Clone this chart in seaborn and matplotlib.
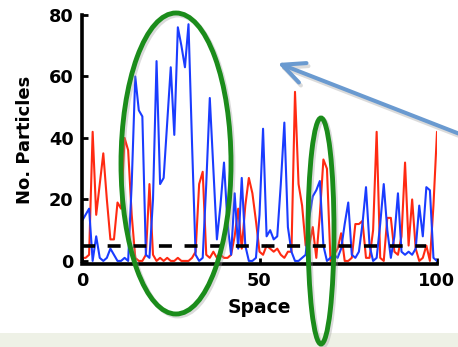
import matplotlib
matplotlib.use("Agg")
import matplotlib.pyplot as plt
import seaborn as sns
import pandas as pd
from matplotlib.patches import Ellipse, FancyArrowPatch, Rectangle, ArrowStyle

# ---- data ----
space = list(range(101))
red = [1, 1, 2, 42, 15, 25, 35, 20, 7, 7,
       19, 17, 40, 36, 15, 1, 0, 0, 2, 25,
       2, 0, 1, 0, 1, 0, 0, 1, 0, 0,
       0, 1, 3, 25, 29, 2, 1, 3, 1, 2,
       1, 1, 2, 8, 17, 4, 18, 27, 22, 13,
       3, 2, 5, 4, 3, 4, 2, 1, 3, 3,
       55, 25, 18, 5, 5, 11, 1, 15, 33, 30,
       0, 2, 4, 9, 0, 0, 1, 12, 12, 13,
       1, 1, 10, 42, 1, 0, 14, 14, 3, 2,
       8, 32, 5, 20, 4, 0, 1, 5, 0, 18,
       42]
blue = [13, 15, 17, 0, 8, 1, 0, 1, 4, 2,
        0, 0, 1, 0, 25, 60, 49, 47, 2, 1,
        20, 65, 25, 27, 45, 63, 41, 76, 70, 63,
        77, 38, 2, 0, 1, 25, 53, 30, 7, 18,
        32, 12, 2, 22, 4, 27, 5, 0, 0, 1,
        15, 43, 8, 10, 7, 8, 25, 45, 11, 3,
        0, 0, 1, 2, 14, 21, 23, 26, 5, 0,
        1, 2, 1, 4, 12, 19, 2, 1, 3, 12,
        24, 5, 0, 1, 12, 25, 10, 1, 8, 22,
        3, 2, 3, 2, 4, 18, 8, 24, 23, 1,
        0]
threshold_x = [0, 97]
threshold_y = [5, 5]
xticks = [0, 50, 100]
yticks = [0, 20, 40, 60, 80]

df = pd.DataFrame({"space": space, "red": red, "blue": blue})

sns.set_style("ticks")
plt.rcParams["font.family"] = ["DejaVu Sans"]
plt.rcParams["text.color"] = "black"
plt.rcParams["axes.labelcolor"] = "black"

W, H = 458, 347
fig = plt.figure(figsize=(W / 100, H / 100), dpi=100)
fig.patch.set_facecolor("white")

ax_left, ax_right, ax_top, ax_bot = 82, 437, 15, 264
ax = fig.add_axes([ax_left / W, 1 - ax_bot / H, (ax_right - ax_left) / W, (ax_bot - ax_top) / H])
ax.set_facecolor("white")

sns.lineplot(data=df, x="space", y="red", color="#ff2a12", linewidth=1.5, ax=ax, zorder=2)
sns.lineplot(data=df, x="space", y="blue", color="#1a3cff", linewidth=1.5, ax=ax, zorder=2.1)
ax.plot(threshold_x, threshold_y, color="black", linewidth=2.6, dashes=(3.6, 3.5), zorder=3,
        solid_capstyle="butt", dash_capstyle="butt")

ax.set_xlim(0, 100)
ax.set_ylim(-1, 80)
ax.set_xticks(xticks)
ax.set_yticks(yticks)
for s in ["top", "right"]:
    ax.spines[s].set_visible(False)
for s in ["left", "bottom"]:
    ax.spines[s].set_linewidth(2.6)
    ax.spines[s].set_color("black")
ax.spines["left"].set_bounds(0, 80)
ax.tick_params(direction="in", length=4, width=2, pad=6, labelsize=12.8,
               colors="black", labelcolor="black")
for lab in ax.get_xticklabels() + ax.get_yticklabels():
    lab.set_fontweight("bold")

ax.set_xlabel("Space", fontsize=13.5, fontweight="bold", color="black")
ax.set_ylabel("No. Particles", fontsize=13, fontweight="bold", color="black")
ax.xaxis.set_label_coords(0.5, (ax_bot - 298) / (ax_bot - ax_top))
ax.yaxis.set_label_coords((34 - ax_left) / (ax_right - ax_left), 0.5)

# ---- annotations ----
def fx(px):
    return px / W

def fy(py):
    return 1 - py / H

# bottom band
fig.add_artist(Rectangle((0, 0), 1, (H - 333) / H, transform=fig.transFigure,
                         facecolor="#eef1e6", edgecolor="none", zorder=0.5))

green = "#1b8c1b"
for (cx, cy, w, h) in [(176, 163.5, 110, 301), (321, 231, 26, 226)]:
    fig.add_artist(Ellipse((fx(cx + 2), fy(cy + 2)), w / W, h / H, transform=fig.transFigure,
                           fill=False, edgecolor="#999999", alpha=0.35, linewidth=3.5, zorder=9))
    fig.add_artist(Ellipse((fx(cx), fy(cy)), w / W, h / H, transform=fig.transFigure,
                           fill=False, edgecolor=green, linewidth=3.5, zorder=10))

style = ArrowStyle("->", head_length=1.6, head_width=0.75)
shadow = FancyArrowPatch((fx(472), fy(141)), (fx(277), fy(65)), transform=fig.transFigure,
                         arrowstyle=style, mutation_scale=10, color="#999999", alpha=0.35,
                         linewidth=2.9, zorder=9)
fig.add_artist(shadow)
arrow = FancyArrowPatch((fx(470), fy(138)), (fx(275), fy(62)), transform=fig.transFigure,
                        arrowstyle=style, mutation_scale=10, color="#6a9ad0",
                        linewidth=2.9, zorder=10)
fig.add_artist(arrow)

fig.savefig("out.png", dpi=100)
